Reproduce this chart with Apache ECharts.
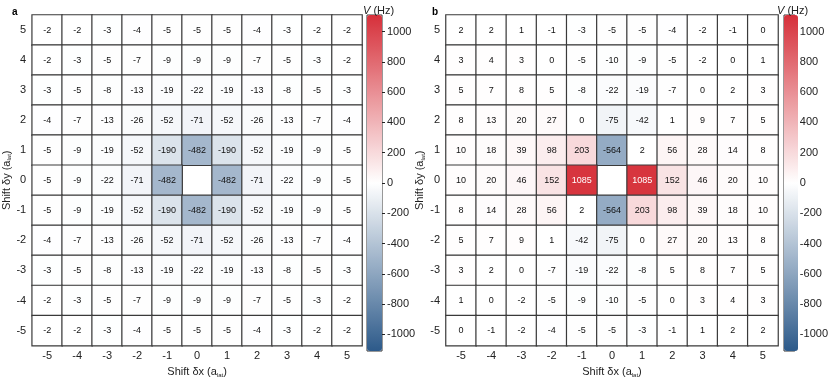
<!DOCTYPE html>
<html><head><meta charset="utf-8">
<script src="https://cdn.jsdelivr.net/npm/echarts@6/dist/echarts.min.js"></script>
<style>html,body{margin:0;padding:0;background:#fff}#c{width:831px;height:383px}</style>
</head><body><div id="c"></div>
<script>
const xCats = ['-5','-4','-3','-2','-1','0','1','2','3','4','5'];
const yCats = ['-5','-4','-3','-2','-1','0','1','2','3','4','5'];
const cbTicks = [-1000,-800,-600,-400,-200,0,200,400,600,800,1000];
const vRange = [-1110, 1110];
// rows listed from y = 5 (top) down to y = -5 (bottom); null = empty cell
const panelA = [
  [-2,-2,-3,-4,-5,-5,-5,-4,-3,-2,-2],
  [-2,-3,-5,-7,-9,-9,-9,-7,-5,-3,-2],
  [-3,-5,-8,-13,-19,-22,-19,-13,-8,-5,-3],
  [-4,-7,-13,-26,-52,-71,-52,-26,-13,-7,-4],
  [-5,-9,-19,-52,-190,-482,-190,-52,-19,-9,-5],
  [-5,-9,-22,-71,-482,null,-482,-71,-22,-9,-5],
  [-5,-9,-19,-52,-190,-482,-190,-52,-19,-9,-5],
  [-4,-7,-13,-26,-52,-71,-52,-26,-13,-7,-4],
  [-3,-5,-8,-13,-19,-22,-19,-13,-8,-5,-3],
  [-2,-3,-5,-7,-9,-9,-9,-7,-5,-3,-2],
  [-2,-2,-3,-4,-5,-5,-5,-4,-3,-2,-2]
];
const panelB = [
  [2,2,1,-1,-3,-5,-5,-4,-2,-1,0],
  [3,4,3,0,-5,-10,-9,-5,-2,0,1],
  [5,7,8,5,-8,-22,-19,-7,0,2,3],
  [8,13,20,27,0,-75,-42,1,9,7,5],
  [10,18,39,98,203,-564,2,56,28,14,8],
  [10,20,46,152,1085,null,1085,152,46,20,10],
  [8,14,28,56,2,-564,203,98,39,18,10],
  [5,7,9,1,-42,-75,0,27,20,13,8],
  [3,2,0,-7,-19,-22,-8,5,8,7,5],
  [1,0,-2,-5,-9,-10,-5,0,3,4,3],
  [0,-1,-2,-4,-5,-5,-3,-1,1,2,2]
];
const FONT = '"Liberation Sans", Arial, Helvetica, sans-serif';
function toData(m){
  const out = [];
  m.forEach((row, r) => {
    const yi = yCats.length - 1 - r;
    row.forEach((v, xi) => {
      if (v === null) return;
      const item = {value:[xi, yi, v]};
      if (Math.abs(v) > 800) item.label = {color:'#fff'};
      out.push(item);
    });
  });
  return out;
}
const colors = ['#2d5a8a','#ffffff','#d6303a'];
const gridsPos = [
  {left:29, top:15, width:333, height:336},
  {left:446, top:15, width:332, height:336},
  {left:367, top:15, width:15, height:336},
  {left:784, top:15, width:14, height:336}
];
const axisNameRich = {sub:{fontSize:6, verticalAlign:'bottom', fontFamily:FONT, color:'#222', padding:[6,0,0,0]}};
function catX(gi){
  return {type:'category', gridIndex:gi, data:xCats, position:'bottom',
    axisLine:{show:false}, axisTick:{show:false},
    axisLabel:{fontSize:11, fontFamily:FONT, color:'#222', margin:5},
    splitLine:{show:false},
    name:'Shift δx (a{sub|lat})', nameLocation:'middle', nameGap:20,
    nameTextStyle:{fontSize:11, fontFamily:FONT, color:'#222', rich:axisNameRich}};
}
function catY(gi){
  return {type:'category', gridIndex:gi, data:yCats,
    axisLine:{show:false}, axisTick:{show:false},
    axisLabel:{fontSize:11, fontFamily:FONT, color:'#222', margin:6},
    name:'Shift δy (a{sub|lat})', nameLocation:'middle', nameGap:15,
    nameTextStyle:{fontSize:11, fontFamily:FONT, color:'#222', rich:axisNameRich}};
}
function cbX(gi){ return {type:'category', gridIndex:gi, data:[''], show:false}; }
function cbY(gi){
  return {type:'value', gridIndex:gi, min:vRange[0], max:vRange[1], position:'right',
    axisLine:{show:false}, splitLine:{show:false},
    axisTick:{show:true, inside:false, length:3, customValues:cbTicks, lineStyle:{color:'#222'}},
    axisLabel:{show:true, customValues:cbTicks, formatter:(v) => String(v), fontSize:11, fontFamily:FONT, color:'#222', margin:5}};
}
function heat(xi, data){
  return {type:'heatmap', xAxisIndex:xi, yAxisIndex:xi, data:data,
    label:{show:true, fontSize:9, fontFamily:FONT, color:'#111'},
    itemStyle:{borderColor:'#3a3a3a', borderWidth:1.2},
    emphasis:{disabled:true}};
}
const titleStyle = {fontSize:11, fontWeight:'normal', fontFamily:FONT, color:'#222',
  rich:{i:{fontStyle:'italic', fontWeight:'normal', fontSize:11, fontFamily:FONT, color:'#222'}}};
const chart = echarts.init(document.getElementById('c'));
chart.setOption({
  animation:false,
  backgroundColor:'#fff',
  title:[
    {text:'a', left:7, top:2, textStyle:{fontSize:10, fontWeight:'bold', fontFamily:FONT, color:'#000'}},
    {text:'b', left:427, top:2, textStyle:{fontSize:10, fontWeight:'bold', fontFamily:FONT, color:'#000'}},
    {text:'{i|V} (Hz)', left:358, top:0, textStyle:titleStyle},
    {text:'{i|V} (Hz)', left:772, top:0, textStyle:titleStyle}
  ],
  grid: gridsPos.map((g, i) => Object.assign({show: i >= 2, borderColor:'#333', borderWidth:1, backgroundColor:'transparent'}, g)),
  xAxis:[catX(0), catX(1), cbX(2), cbX(3)],
  yAxis:[catY(0), catY(1), cbY(2), cbY(3)],
  visualMap:[
    {type:'continuous', seriesIndex:0, min:vRange[0], max:vRange[1], calculable:false, hoverLink:false,
     inRange:{color:colors}, left:367, top:15, itemWidth:15, itemHeight:336, padding:0, text:null, showLabel:false},
    {type:'continuous', seriesIndex:1, min:vRange[0], max:vRange[1], calculable:false, hoverLink:false,
     inRange:{color:colors}, left:784, top:15, itemWidth:14, itemHeight:336, padding:0, text:null, showLabel:false}
  ],
  series:[heat(0, toData(panelA)), heat(1, toData(panelB))]
});
</script></body></html>
